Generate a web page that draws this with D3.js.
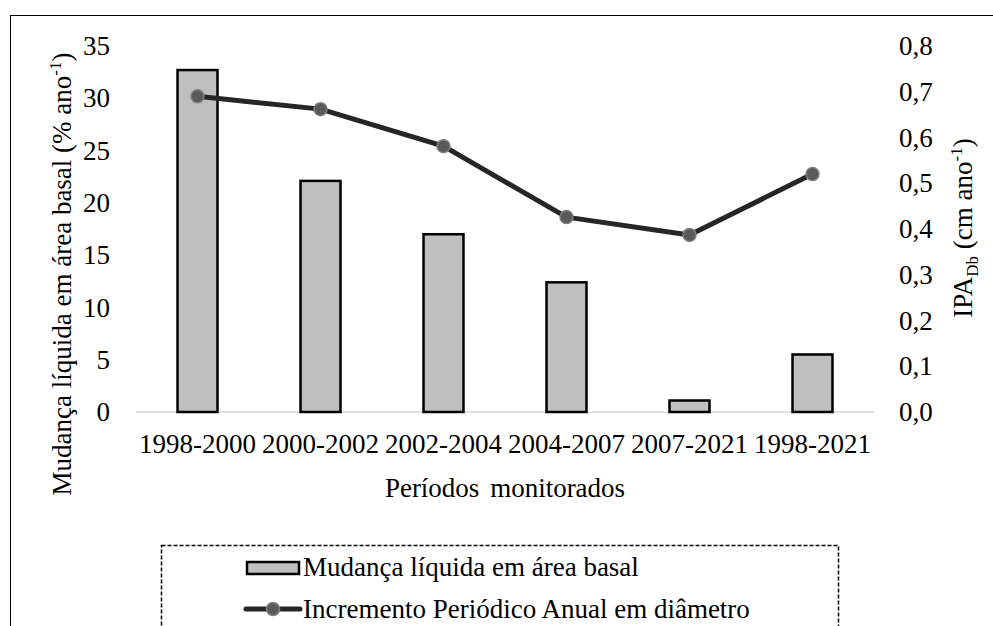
<!DOCTYPE html>
<html>
<head>
<meta charset="utf-8">
<title>Mudança líquida em área basal e IPA</title>
<script src="https://cdn.jsdelivr.net/npm/d3@7"></script>
<style>
body { margin: 0; background: #fff; }
svg text { font-family: "Times New Roman", "Liberation Serif", Tinos, "DejaVu Serif", serif; fill: #000; }
</style>
</head>
<body>
<script>
// data
var periodos = ["1998-2000", "2000-2002", "2002-2004", "2004-2007", "2007-2021", "1998-2021"];
var mudanca = [32.7, 22.1, 17.0, 12.4, 1.1, 5.5];     // % ano-1, left axis
var ipa = [0.69, 0.662, 0.581, 0.426, 0.387, 0.52];   // cm ano-1, right axis
var ticksEsq = [0, 5, 10, 15, 20, 25, 30, 35];
var ticksDir = [0, 0.1, 0.2, 0.3, 0.4, 0.5, 0.6, 0.7, 0.8];

var w = 993, h = 626;
var fs = 27;
var serif = "'Times New Roman', 'Liberation Serif', Tinos, 'DejaVu Serif', serif";

var svg = d3.select("body").append("svg")
    .attr("width", w)
    .attr("height", h)
    .style("font-family", serif);

// outer frame (runs off the right and bottom of the picture)
svg.append("rect")
    .attr("x", 10.5).attr("y", 15.5)
    .attr("width", 1000).attr("height", 700)
    .attr("fill", "none").attr("stroke", "#000").attr("stroke-width", 1);

var x = d3.scaleBand().domain(periodos).range([136, 874])
    .paddingInner(0.675).paddingOuter(0.3375);
var yL = d3.scaleLinear().domain([0, 35]).range([412, 46]);
var yR = d3.scaleLinear().domain([0, 0.8]).range([412, 46]);

// baseline
svg.append("line")
    .attr("x1", 136).attr("x2", 874)
    .attr("y1", yL(0)).attr("y2", yL(0))
    .attr("stroke", "#d9d9d9").attr("stroke-width", 1.5);

// bars
svg.selectAll("rect.bar")
    .data(mudanca)
    .enter()
    .append("rect")
    .attr("class", "bar")
    .attr("x", function(d, i) { return x(periodos[i]); })
    .attr("y", function(d) { return yL(d); })
    .attr("width", x.bandwidth())
    .attr("height", function(d) { return yL(0) - yL(d); })
    .attr("fill", "#bfbfbf")
    .attr("stroke", "#000")
    .attr("stroke-width", 2.5);

// line
var line = d3.line()
    .x(function(d, i) { return x(periodos[i]) + x.bandwidth() / 2; })
    .y(function(d) { return yR(d); });

svg.append("path")
    .datum(ipa)
    .attr("d", line)
    .attr("fill", "none")
    .attr("stroke", "#262626")
    .attr("stroke-width", 5)
    .attr("stroke-linejoin", "round");

svg.selectAll("circle.pt")
    .data(ipa)
    .enter()
    .append("circle")
    .attr("class", "pt")
    .attr("cx", function(d, i) { return x(periodos[i]) + x.bandwidth() / 2; })
    .attr("cy", function(d) { return yR(d); })
    .attr("r", 6.5)
    .attr("fill", "#595959")
    .attr("stroke", "#7f7f7f")
    .attr("stroke-width", 1.5);

// axes
var axL = svg.append("g")
    .attr("transform", "translate(136,0)")
    .call(d3.axisLeft(yL).tickValues(ticksEsq).tickSize(0).tickPadding(26));
var axR = svg.append("g")
    .attr("transform", "translate(874,0)")
    .call(d3.axisRight(yR).tickValues(ticksDir).tickSize(0).tickPadding(25)
        .tickFormat(function(d) { return d3.format(".1f")(d).replace(".", ","); }));
var axB = svg.append("g")
    .attr("transform", "translate(0," + yL(0) + ")")
    .call(d3.axisBottom(x).tickSize(0).tickPadding(22));

[axL, axR, axB].forEach(function(g) {
    g.attr("font-family", null);
    g.select(".domain").remove();
    g.selectAll("text")
        .style("font-family", serif)
        .attr("font-size", fs)
        .attr("fill", "#000");
});

// axis titles
svg.append("text")
    .attr("x", 505).attr("y", 497)
    .attr("text-anchor", "middle")
    .attr("font-size", fs)
    .style("word-spacing", "4px")
    .text("Períodos monitorados");

var tL = svg.append("text")
    .attr("transform", "translate(71,274) rotate(-90)")
    .attr("text-anchor", "middle")
    .attr("font-size", fs);
tL.append("tspan").text("Mudança líquida em área basal (% ano");
tL.append("tspan").attr("dy", -10).attr("font-size", 17).text("-1");
tL.append("tspan").attr("dy", 10).text(")");

var tR = svg.append("text")
    .attr("transform", "translate(972,228) rotate(-90)")
    .attr("text-anchor", "middle")
    .attr("font-size", fs);
tR.append("tspan").text("IPA");
tR.append("tspan").attr("dy", 6).attr("font-size", 17).text("Db");
tR.append("tspan").attr("dy", -6).text(" (cm ano");
tR.append("tspan").attr("dy", -10).attr("font-size", 17).text("-1");
tR.append("tspan").attr("dy", 10).text(")");

// legend
var leg = svg.append("g");
leg.append("rect")
    .attr("x", 161.5).attr("y", 545.5)
    .attr("width", 677).attr("height", 200)
    .attr("fill", "none").attr("stroke", "#000")
    .attr("stroke-width", 1.5).attr("stroke-dasharray", "4,2");

leg.append("rect")
    .attr("x", 247).attr("y", 562)
    .attr("width", 52).attr("height", 12)
    .attr("fill", "#bfbfbf").attr("stroke", "#000").attr("stroke-width", 2.5);
leg.append("text")
    .attr("x", 303).attr("y", 576)
    .attr("font-size", fs)
    .text("Mudança líquida em área basal");

leg.append("line")
    .attr("x1", 246).attr("x2", 300)
    .attr("y1", 609).attr("y2", 609)
    .attr("stroke", "#262626").attr("stroke-width", 5).attr("stroke-linecap", "round");
leg.append("circle")
    .attr("cx", 273).attr("cy", 609).attr("r", 6.5)
    .attr("fill", "#595959").attr("stroke", "#7f7f7f").attr("stroke-width", 1.5);
leg.append("text")
    .attr("x", 303).attr("y", 618)
    .attr("font-size", fs)
    .text("Incremento Periódico Anual em diâmetro");
</script>
</body>
</html>
